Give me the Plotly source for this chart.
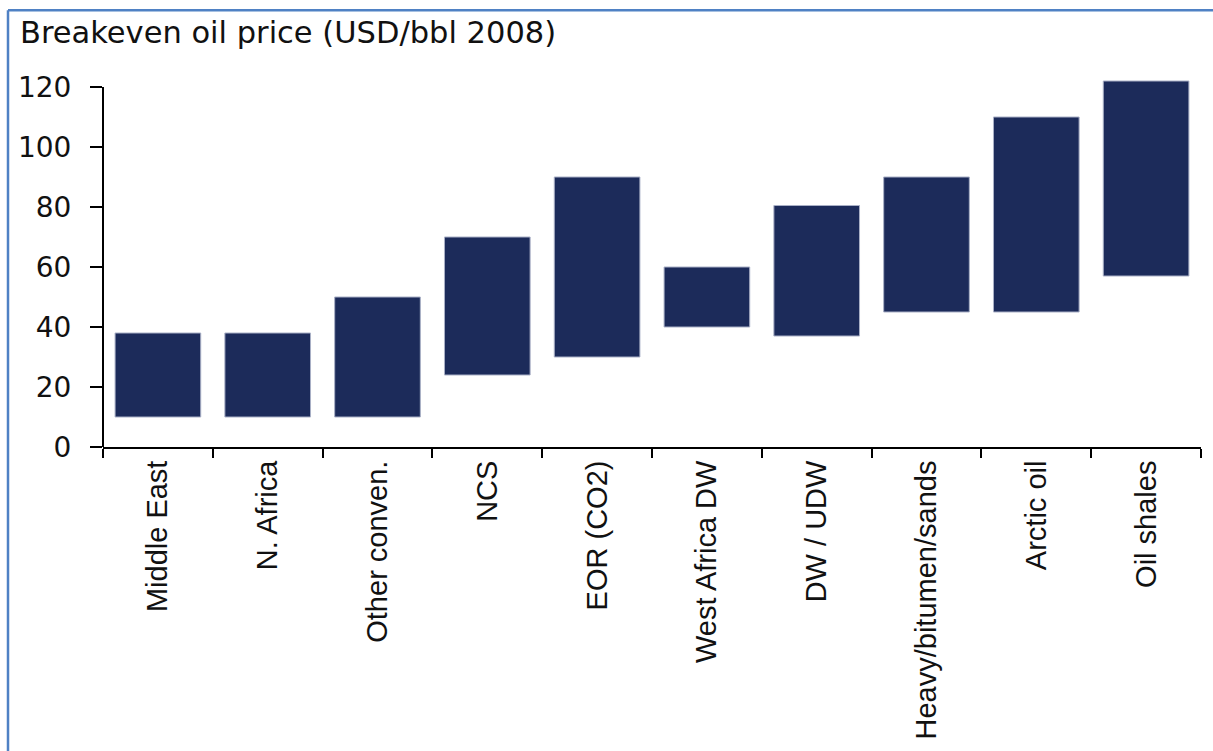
import plotly.graph_objects as go

categories = ["Middle East", "N. Africa", "Other conven.", "NCS", "EOR (CO2)",
              "West Africa DW", "DW / UDW", "Heavy/bitumen/sands", "Arctic oil", "Oil shales"]
low = [10, 10, 10, 24, 30, 40, 37, 45, 45, 57]
high = [38, 38, 50, 70, 90, 60, 80.5, 90, 110, 122]
y_ticks = [0, 20, 40, 60, 80, 100, 120]
y_axis_top = 120
y_range_top = 123

W, H = 1213, 751
px_per_unit = (449 - 87) / 120
L, R, B = 103, 12, 302
T = round(87 - (y_range_top - y_axis_top) * px_per_unit)

fig = go.Figure(go.Bar(
    x=categories,
    y=[h - l for h, l in zip(high, low)],
    base=low,
    marker=dict(color="#1c2b5a", line=dict(color="#a9b0c6", width=1)),
    width=0.78,
    hoverinfo="skip",
))

wide = "DejaVu Sans, Verdana, sans-serif"
arial = "Liberation Sans, Arial, sans-serif"

fig.update_layout(
    width=W, height=H,
    margin=dict(l=L, r=R, t=T, b=B),
    paper_bgcolor="white", plot_bgcolor="white",
    showlegend=False,
    font=dict(family=arial, color="#111111", size=29),
    title=dict(text="Breakeven oil price (USD/bbl 2008)", x=20 / W, xanchor="left",
               xref="container", yref="container", y=1 - 32 / H, yanchor="middle",
               font=dict(family=wide, size=30.5, color="#111111")),
)
fig.update_yaxes(
    range=[0, y_range_top], tickvals=y_ticks, showgrid=False, zeroline=False,
    showline=False,
    ticks="outside", ticklen=12, tickwidth=2, tickcolor="black",
    ticklabelstandoff=13, tickfont=dict(family=wide, size=28),
)
fig.update_xaxes(
    showgrid=False, showline=True, linecolor="black", linewidth=2,
    ticks="outside", ticklen=9, tickwidth=2, tickcolor="black",
    tickson="boundaries", tickangle=-90, tickfont=dict(family=arial, size=29),
)
# y axis line from 0 to 120 only
fig.add_shape(type="line", xref="paper", yref="y", x0=0, x1=0, y0=0, y1=y_axis_top,
              line=dict(color="black", width=2), layer="above")
# outer frame (blue top & left border)
pw, ph = W - L - R, H - T - B
fig.add_shape(type="line", xref="paper", yref="paper",
              x0=(8 - L) / pw, x1=(W + 10 - L) / pw,
              y0=(H - B - 10) / ph, y1=(H - B - 10) / ph,
              line=dict(color="#4f81c4", width=2.5))
fig.add_shape(type="line", xref="paper", yref="paper",
              x0=(8 - L) / pw, x1=(8 - L) / pw,
              y0=(H - B - 10) / ph, y1=-(B + 5) / ph,
              line=dict(color="#4f81c4", width=2.5))

fig.write_html("out.html", config={"displayModeBar": False},
               post_script="document.body.style.margin='0px';")
